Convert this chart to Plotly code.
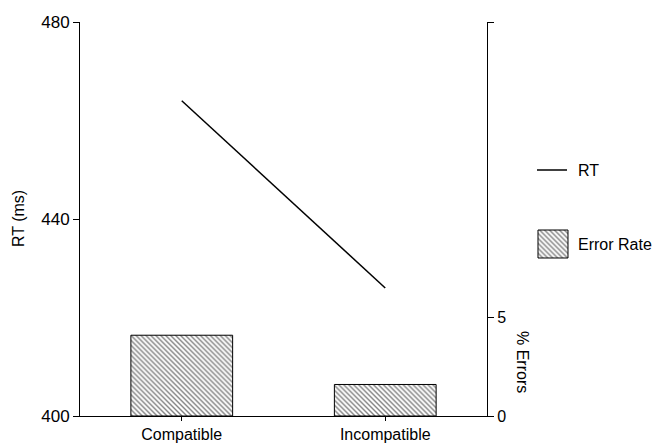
import plotly.graph_objects as go

categories = ["Compatible", "Incompatible"]
rt_ms = [464, 426]
error_pct = [4.1, 1.6]
rt_ticks = [400, 440, 480]
err_ticks = [0, 5, 20]
err_ticktext = ["0", "5", ""]

FONT = "Liberation Sans, Arial, sans-serif"
FS = 16
W, H = 655, 443
ML, MR, MT, MB = 80, 5, 22, 27
PW = W - ML - MR
PH = H - MT - MB
main_right_px = 487
main_dom = (main_right_px - ML) / PW

fig = go.Figure()

pat = dict(shape="\\", fgcolor="black", bgcolor="white", size=3.5, solidity=0.4)

fig.add_trace(go.Bar(
    x=categories, y=error_pct, yaxis="y2", width=0.5,
    marker=dict(color="white", line=dict(color="black", width=1), pattern=pat),
    showlegend=False, name="Error Rate"))

fig.add_trace(go.Scatter(
    x=categories, y=rt_ms, mode="lines", line=dict(color="black", width=1.5),
    showlegend=False, name="RT"))

# legend keys drawn on a hidden pixel-unit axis to the right
leg_left = main_dom + 0.04
x3_lo = ML + leg_left * PW
x3_hi = ML + PW
fig.add_trace(go.Scatter(
    x=[537, 567], y=[170, 170], xaxis="x3", yaxis="y3", mode="lines",
    line=dict(color="black", width=1.5), showlegend=False, hoverinfo="skip"))
fig.add_trace(go.Scatter(
    x=[538, 568, 568, 538, 538], y=[230, 230, 258, 258, 230], xaxis="x3", yaxis="y3",
    mode="lines", fill="toself", fillcolor="white", fillpattern=pat,
    line=dict(color="black", width=1), showlegend=False, hoverinfo="skip"))

fig.update_layout(
    width=W, height=H,
    margin=dict(l=ML, r=MR, t=MT, b=MB),
    paper_bgcolor="white", plot_bgcolor="white",
    font=dict(family=FONT, size=FS, color="black"),
    showlegend=False,
    xaxis=dict(domain=[0, main_dom], range=[-0.5, 1.5], showline=True, linecolor="black",
               linewidth=1, ticks="outside", ticklen=4, tickcolor="black", automargin=False,
               showgrid=False, zeroline=False, tickfont=dict(size=FS)),
    yaxis=dict(range=[400, 480], tickvals=rt_ticks, showline=True, linecolor="black",
               linewidth=1, ticks="outside", ticklen=6, tickcolor="black", automargin=False,
               showgrid=False, zeroline=False, tickfont=dict(size=FS + 1)),
    yaxis2=dict(range=[0, 20], overlaying="y", side="right", anchor="x", automargin=False,
                tickvals=err_ticks, ticktext=err_ticktext, showline=True, linecolor="black",
                linewidth=1, ticks="outside", ticklen=6, tickcolor="black",
                showgrid=False, zeroline=False, tickfont=dict(size=FS)),
    xaxis3=dict(domain=[leg_left, 1], range=[x3_lo, x3_hi], visible=False, fixedrange=True),
    yaxis3=dict(domain=[0, 1], range=[H - MB, MT], anchor="x3", visible=False, fixedrange=True),
    annotations=[
        dict(text="RT (ms)", xref="paper", yref="paper", x=(18 - ML) / PW, y=0.5,
             xanchor="center", yanchor="middle",
             textangle=-90, showarrow=False, font=dict(size=FS)),
        dict(text="% Errors", xref="paper", yref="paper", x=(523 - ML) / PW,
             y=(H - MB - 362) / PH, xanchor="center", yanchor="middle",
             textangle=90, showarrow=False, font=dict(size=FS)),
        dict(text="RT", xref="x3", yref="y3", x=576, y=170, xanchor="left",
             showarrow=False, font=dict(size=FS)),
        dict(text="Error Rate", xref="x3", yref="y3", x=576, y=244, xanchor="left",
             showarrow=False, font=dict(size=FS)),
    ],
)

fig.write_html("out.html")
